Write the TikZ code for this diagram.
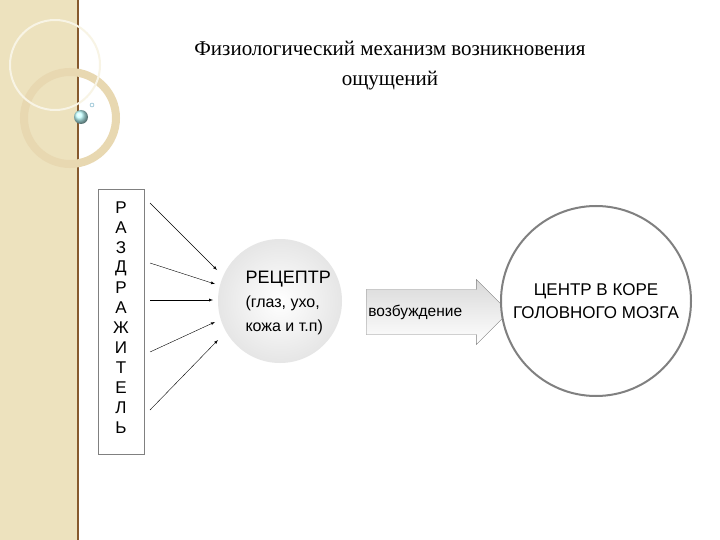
\documentclass[tikz,border=0pt]{standalone}
\usepackage{fontspec}
\setmainfont{Liberation Serif}
\newfontfamily\arialfont{Liberation Sans}
\usetikzlibrary{shapes.arrows,positioning}
\definecolor{bandcol}{HTML}{EDE2BE}
\begin{document}
\begin{tikzpicture}
	[
	x=1pt, y=-1pt,
  > = latex,
  letter/.style = {font=\arialfont\fontsize{17}{17}\selectfont, inner sep=0pt},
  stimul/.style = {->, thin},
  ]
	\useasboundingbox (0,0) rectangle (720,540);
	% background band
	\fill[white] (0,0) rectangle (720,540);
	\fill[bandcol] (0,0) rectangle (78,540);
	\draw[brown!70!black, line width=1.2pt] (78,0) -- (78,540);
	\draw[bandcol!90!brown, line width=8pt] (70,118) circle (46);
	\draw[white!60!bandcol, line width=2pt] (55,65) circle (45);
	\shade[ball color=cyan!25] (81,117) circle (7);
	\draw[cyan!50!gray] (92,105) circle (2);

	\node[font=\fontsize{21}{30}\selectfont, align=center] (title) at (390,66)
		{Физиологический механизм возникновения\\ощущений};

	% stimulus box
	\node[draw=gray, fill=white, minimum width=46, minimum height=265] (box) at (121,322) {};
	\foreach \ch [count=\i] in {Р,А,З,Д,Р,А,Ж,И,Т,Е,Л,Ь}
		\node[letter] (l\i) at (121,188+20*\i) {\ch};

	% receptor
	\shade[inner color=white, outer color=gray!20] (280,301) circle (62);
	\node[circle, minimum size=124, inner sep=0pt] (rec) at (280,301) {};
	\node[font=\arialfont\fontsize{18}{24}\selectfont, align=left, anchor=west] (rectext) at (242,303)
		{РЕЦЕПТР\\{\fontsize{16}{24}\selectfont (глаз, ухо,}\\{\fontsize{16}{22}\selectfont кожа и т.п)}};

	\coordinate (s1) at (150,203);
	\coordinate (s2) at (150,263);
	\coordinate (s3) at (150,300);
	\coordinate (s4) at (150,352);
	\coordinate (s5) at (150,410);
	\draw[stimul] (s1) -- (217,270);
	\draw[stimul] (s2) -- (215,284);
	\draw[stimul] (s3) -- (213,300);
	\draw[stimul] (s4) -- (215,322);
	\draw[stimul] (s5) -- (218,340);

	% excitation arrow
	\node[single arrow, draw=gray, left color=gray!30, right color=white, shading angle=0,
		minimum height=134, single arrow head extend=10pt,
		inner xsep=2pt, inner ysep=15pt, anchor=west, font=\arialfont\fontsize{15.5}{15.5}\selectfont] (exc) at (366,312) {возбуждение\hspace*{22pt}};

	% centre
	\node[circle, draw=gray, line width=2pt, fill=white, minimum size=190, inner sep=0pt,
		align=center, font=\arialfont\fontsize{17}{23}\selectfont] (centre) at (596,301)
		{ЦЕНТР В КОРЕ\\ГОЛОВНОГО МОЗГА};
\end{tikzpicture}
\end{document}
